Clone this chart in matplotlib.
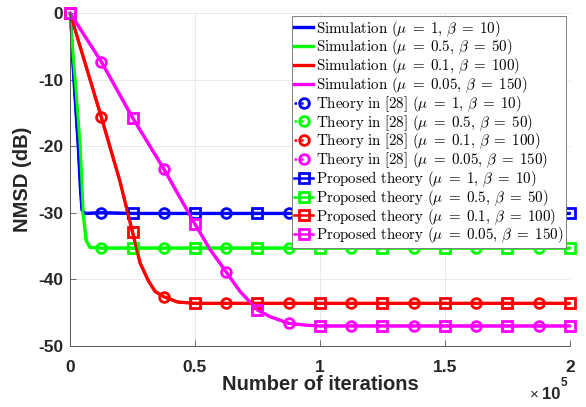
import numpy as np
import matplotlib
import matplotlib.pyplot as plt
from matplotlib.ticker import FuncFormatter

matplotlib.use('Agg')
plt.rcParams['mathtext.fontset'] = 'cm'
plt.rcParams['axes.unicode_minus'] = False

# theory curves are evaluated every 12500 iterations (markers go here)
grid_iters = [0, 12500, 25000, 37500, 50000, 62500, 75000, 87500, 100000,
              112500, 125000, 137500, 150000, 162500, 175000, 187500, 200000]

blue_grid = [0, -30.0, -30.1, -30.1, -30.1, -30.1, -30.1, -30.1, -30.1,
             -30.1, -30.1, -30.1, -30.1, -30.1, -30.1, -30.1, -30.1]
green_grid = [0, -35.3, -35.3, -35.3, -35.3, -35.3, -35.3, -35.3, -35.3,
              -35.3, -35.3, -35.3, -35.3, -35.3, -35.3, -35.3, -35.3]
red_grid = [0, -15.6, -32.9, -42.6, -43.6, -43.6, -43.6, -43.6, -43.6,
            -43.6, -43.6, -43.6, -43.6, -43.6, -43.6, -43.6, -43.6]
magenta_grid = [0, -7.3, -15.7, -23.4, -31.7, -38.9, -44.6, -46.6, -47.0,
                -47.0, -47.0, -47.0, -47.0, -47.0, -47.0, -47.0, -47.0]

# extra points in the fast transients
blue_iters = [1000, 2000, 3300, 4200, 4800, 6000]
blue_db = [-6.5, -12.5, -20.0, -26.5, -29.6, -30.1]
green_iters = [1000, 2500, 4000, 5200, 6500, 8000]
green_db = [-5.5, -12.5, -20.0, -30.0, -34.2, -35.2]
red_iters = [20000, 28000, 31200, 34000, 43000]
red_db = [-25.3, -37.5, -40.1, -41.8, -43.4]
magenta_iters = [56000, 68000, 80000, 95000]
magenta_db = [-35.5, -41.8, -45.6, -46.9]

colors = ['#0000ff', '#00ff00', '#ff0000', '#ff00ff']
params = [r'\mu\;=\;1,\,\beta\;=\;10', r'\mu\;=\;0.5,\,\beta\;=\;50',
          r'\mu\;=\;0.1,\,\beta\;=\;100', r'\mu\;=\;0.05,\,\beta\;=\;150']


def merge(extra_x, extra_y, grid_y):
    x = np.array(list(grid_iters) + list(extra_x), dtype=float)
    y = np.array(list(grid_y) + list(extra_y), dtype=float)
    order = np.argsort(x, kind='stable')
    x, y = x[order], y[order]
    grid_idx = [int(np.where(x == g)[0][0]) for g in grid_iters]
    return x, y, grid_idx


curves = [merge(blue_iters, blue_db, blue_grid),
          merge(green_iters, green_db, green_grid),
          merge(red_iters, red_db, red_grid),
          merge(magenta_iters, magenta_db, magenta_grid)]

fig = plt.figure(figsize=(5.86, 4.07), dpi=100)
ax = fig.add_axes([0.1195, 0.150, 0.853, 0.818])

handles = []
for (x, y, gi), c, p in zip(curves, colors, params):
    h, = ax.plot(x, y, color=c, lw=2.4,
                 label=r'$\mathrm{Simulation}\ (%s)$' % p)
    handles.append(h)
for (x, y, gi), c, p in zip(curves, colors, params):
    h, = ax.plot(x, y, color=c, lw=1.8, ls=':', marker='o', ms=7,
                 mfc='none', mew=2, markevery=gi[1::2], clip_on=False,
                 label=r'$\mathrm{Theory\ in\ [28]}\ (%s)$' % p)
    handles.append(h)
for (x, y, gi), c, p in zip(curves, colors, params):
    h, = ax.plot(x, y, color=c, lw=1.8, marker='s', ms=7,
                 mfc='none', mew=2, markevery=gi[0::2], clip_on=False,
                 label=r'$\mathrm{Proposed\ theory}\ (%s)$' % p)
    handles.append(h)

ax.set_xlim(0, 200000)
ax.set_ylim(-50, 0)
ax.set_xticks([0, 50000, 100000, 150000, 200000])
ax.set_yticks([-50, -40, -30, -20, -10, 0])
ax.xaxis.set_major_formatter(FuncFormatter(lambda v, pos: '%g' % (v / 1e5)))

txt = '#262626'
for lab in ax.get_xticklabels() + ax.get_yticklabels():
    lab.set_fontfamily('Liberation Sans')
    lab.set_fontweight('bold')
    lab.set_fontsize(12.5)
    lab.set_color(txt)
ax.tick_params(direction='in', length=4, width=0.6, colors='#555555',
               labelcolor=txt)
ax.tick_params(axis='x', pad=10)
ax.tick_params(axis='y', pad=5)
ax.grid(True, color='#e6e6e6', lw=0.6)
ax.set_axisbelow(True)
for s in ['top', 'right']:
    ax.spines[s].set_visible(False)
for s in ['left', 'bottom']:
    ax.spines[s].set_color('#555555')
    ax.spines[s].set_linewidth(0.7)

ax.set_xlabel('Number of iterations', fontfamily='Liberation Sans',
              fontweight='bold', fontsize=14.5, color=txt, labelpad=0)
ax.set_ylabel('NMSD (dB)', fontfamily='Liberation Sans',
              fontweight='bold', fontsize=14.5, color=txt, labelpad=4)

ax.text(0.937, -0.145, '×', transform=ax.transAxes, ha='right',
        va='center', fontfamily='Liberation Sans',
        fontsize=11, color=txt)
ax.text(0.98, -0.145, '10', transform=ax.transAxes, ha='right',
        va='center', fontfamily='Liberation Sans', fontweight='bold',
        fontsize=12, color=txt)
ax.text(0.982, -0.112, '5', transform=ax.transAxes, ha='left',
        va='center', fontfamily='Liberation Sans', fontweight='bold',
        fontsize=8.5, color=txt)

leg = ax.legend(handles=handles, loc='upper right',
                bbox_to_anchor=(0.992, 0.99),
                fontsize=10.8, handlelength=1.3, handletextpad=0.2,
                borderpad=0.15, labelspacing=-0.08, borderaxespad=0,
                fancybox=False, framealpha=1, edgecolor='#808080')
leg.get_frame().set_linewidth(0.7)

fig.savefig('out.png', dpi=100)
